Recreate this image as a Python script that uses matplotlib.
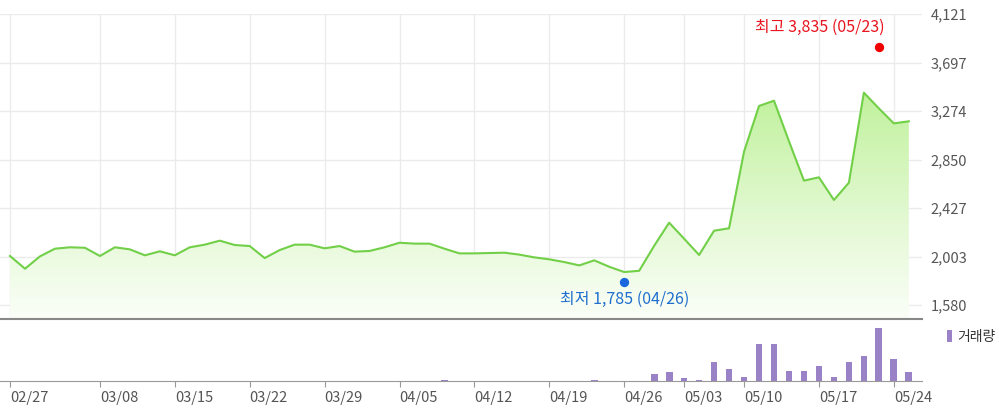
import numpy as np
import matplotlib
matplotlib.use("Agg")
import matplotlib.pyplot as plt
from matplotlib.ticker import FixedLocator, FuncFormatter

plt.rcParams['font.family'] = ['Noto Sans CJK KR', 'DejaVu Sans']

# 거래일 (2023-02-27 ~ 2023-05-25)
dates = ['02/27', '02/28', '03/02', '03/03', '03/06', '03/07', '03/08', '03/09', '03/10',
         '03/13', '03/14', '03/15', '03/16', '03/17', '03/20', '03/21', '03/22', '03/23',
         '03/24', '03/27', '03/28', '03/29', '03/30', '03/31', '04/03', '04/04', '04/05',
         '04/06', '04/07', '04/10', '04/11', '04/12', '04/13', '04/14', '04/17', '04/18',
         '04/19', '04/20', '04/21', '04/24', '04/25', '04/26', '04/27', '04/28', '05/02',
         '05/03', '05/04', '05/08', '05/09', '05/10', '05/11', '05/12', '05/15', '05/16',
         '05/17', '05/18', '05/19', '05/22', '05/23', '05/24', '05/25']

# 종가
close = [2008, 1897, 2005, 2072, 2084, 2080, 2008, 2084, 2066, 2014, 2049, 2014, 2084,
         2107, 2142, 2104, 2095, 1990, 2060, 2107, 2107, 2075, 2095, 2046, 2052, 2084,
         2124, 2116, 2116, 2072, 2031, 2031, 2034, 2037, 2020, 1996, 1979, 1955, 1926,
         1970, 1914, 1868, 1879, 2097, 2299, 2159, 2017, 2229, 2250, 2919, 3318, 3364,
         3010, 2666, 2695, 2497, 2648, 3434, 3297, 3166, 3184]

# 거래량 (천주)
volume = [10, 10, 10, 10, 10, 10, 10, 10, 10, 10, 10, 10, 10, 10, 10, 10, 10, 10, 10,
          10, 10, 10, 10, 10, 10, 10, 10, 10, 10, 110, 10, 10, 10, 10, 10, 10, 10, 10, 10,
          180, 10, 10, 10, 770, 930, 300, 170, 1930, 1200, 470, 3700, 3700, 1030, 1030,
          1500, 470, 1930, 2530, 5300, 2230, 930]

y_ticks = [1580, 2003, 2427, 2850, 3274, 3697, 4121]
x_labels = ['02/27', '03/08', '03/15', '03/22', '03/29', '04/05', '04/12', '04/19',
            '04/26', '05/03', '05/10', '05/17', '05/24']

high_val, high_date = 3835, '05/23'
low_val, low_date = 1785, '04/26'

x = np.arange(len(dates))
x_pos = [dates.index(d) for d in x_labels]
xlim = (-0.67, 60.88)

fig = plt.figure(figsize=(9.99, 4.17), dpi=100)
ax = fig.add_axes([0, 98 / 417, 922 / 999, 305 / 417])
axv = fig.add_axes([0, 35.7 / 417, 922 / 999, 62.3 / 417], sharex=ax)

ylim = (1458, 4121)

# 그라데이션 채우기
grad = np.linspace(0, 1, 256).reshape(-1, 1)
top_c = np.array([192, 241, 156]) / 255
bot_c = np.array([250, 254, 247]) / 255
img = bot_c + (top_c - bot_c) * grad[..., None] ** 1.1
img = img.reshape(256, 1, 3)
poly = ax.fill_between(x, close, ylim[0], color='none', lw=0)
im = ax.imshow(img, extent=[xlim[0], xlim[1], ylim[0], max(close)], origin='lower',
               aspect='auto', zorder=1)
im.set_clip_path(poly.get_paths()[0], transform=ax.transData)
ax.plot(x, close, color='#72cf48', lw=1.5, zorder=3)

# 최고/최저 표시
hi_i = dates.index(high_date)
lo_i = dates.index(low_date)
ax.scatter([hi_i], [high_val], s=45, color='#f00000', zorder=4, lw=0)
ax.scatter([lo_i], [low_val], s=45, color='#1a66dd', zorder=4, lw=0)
ax.annotate(f'최고 {high_val:,} ({high_date})', (hi_i, high_val), xytext=(4, 14),
            textcoords='offset points', ha='right', va='center', color='#e8141e', fontsize=11.5)
ax.annotate(f'최저 {low_val:,} ({low_date})', (lo_i, low_val), xytext=(0, -13),
            textcoords='offset points', ha='center', va='center', color='#1f6fcf', fontsize=11.5)

ax.set_xlim(*xlim)
ax.set_ylim(*ylim)
ax.yaxis.tick_right()
ax.yaxis.set_major_locator(FixedLocator(y_ticks))
ax.yaxis.set_major_formatter(FuncFormatter(lambda v, p: f'{int(v):,}'))
ax.tick_params(axis='y', length=0, pad=6, labelsize=10.5, labelcolor='#555555')
ax.tick_params(axis='x', length=0, labelbottom=False)
ax.grid(True, color='#ebebeb', lw=1)
ax.set_axisbelow(True)
for s in ['top', 'left', 'right']:
    ax.spines[s].set_visible(False)
ax.spines['bottom'].set_color('#888888')
ax.spines['bottom'].set_linewidth(1.5)

# 거래량
bars = axv.bar(x, volume, width=0.45, color='#9a82c6', label='거래량')
axv.set_ylim(0, 6230)
axv.set_yticks([])
axv.set_xticks(x_pos)
axv.set_xticklabels(x_labels, ha='left')
axv.tick_params(axis='x', length=4, color='#999999', pad=3, labelsize=10.5, labelcolor='#555555')
for s in ['top', 'left', 'right']:
    axv.spines[s].set_visible(False)
axv.spines['bottom'].set_color('#999999')
axv.patch.set_alpha(0)
axv.legend(handles=[bars], loc='upper left', bbox_to_anchor=(947 / 999, 1 - 330 / 417),
           bbox_transform=fig.transFigure, frameon=False, handlelength=0.35,
           handleheight=0.9, handletextpad=0.4, fontsize=10, labelcolor='#333333',
           borderpad=0, borderaxespad=0)

fig.savefig('out.png', dpi=100)
